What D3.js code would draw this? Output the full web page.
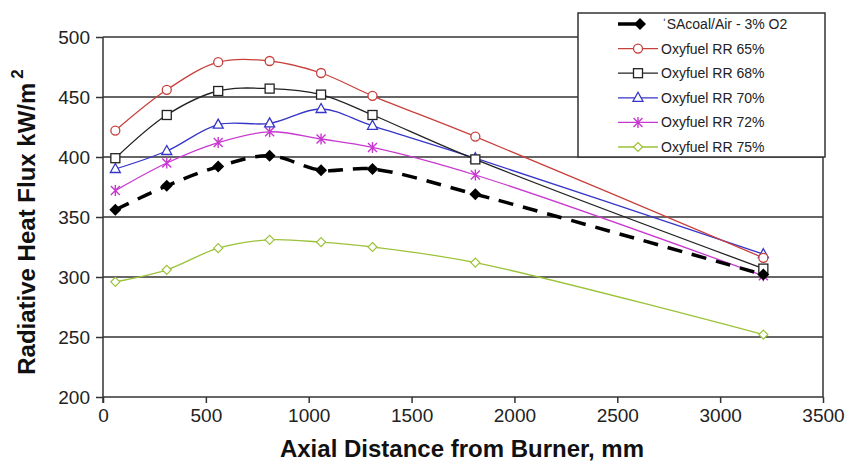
<!DOCTYPE html>
<html>
<head>
<meta charset="utf-8">
<script src="https://cdn.jsdelivr.net/npm/d3@7"></script>
<style>
  body { margin: 0; background: #fff; }
  svg { display: block; font-family: "Liberation Sans", Arial, sans-serif; }
  .axis path, .axis line { stroke: #333; stroke-width: 1.5; }
  .axis text { font-size: 19px; fill: #222; }
  .grid line { stroke: #333; stroke-width: 1.5; }
</style>
</head>
<body>
<div id="container"></div>
<script>
(function(){
//chart values
var distance = [60, 310, 560, 810, 1060, 1310, 1810, 3210];
var seriesNames = ["SAcoal/Air - 3% O2", "Oxyfuel RR 65%", "Oxyfuel RR 68%", "Oxyfuel RR 70%", "Oxyfuel RR 72%", "Oxyfuel RR 75%"];
var airValues = [356, 376, 392, 401, 389, 390, 369, 302];
var rr65Values = [422, 456, 479, 480, 470, 451, 417, 316];
var rr68Values = [399, 435, 455, 457, 452, 435, 398, 307];
var rr70Values = [390, 405, 427, 428, 440, 426, 399, 319];
var rr72Values = [372, 395, 412, 421, 415, 408, 385, 301];
var rr75Values = [296, 306, 324, 331, 329, 325, 312, 252];
var xTicks = [0, 500, 1000, 1500, 2000, 2500, 3000, 3500];
var yTicks = [200, 250, 300, 350, 400, 450, 500];

var series = [
    {name: seriesNames[0], values: airValues, color: "#000", marker: "diamondFill"},
    {name: seriesNames[1], values: rr65Values, color: "#c8403c", marker: "circle"},
    {name: seriesNames[2], values: rr68Values, color: "#222", marker: "square"},
    {name: seriesNames[3], values: rr70Values, color: "#3535c8", marker: "triangle"},
    {name: seriesNames[4], values: rr72Values, color: "#c838d0", marker: "star"},
    {name: seriesNames[5], values: rr75Values, color: "#9cc23a", marker: "diamond"}
];

var width = 846, height = 462;
var left = 103, right = 823, top = 37, bottom = 397;

var svg = d3.select("#container").append("svg")
    .attr("width", width)
    .attr("height", height);

var x = d3.scaleLinear().domain([0, 3500]).range([left, right]);
var y = d3.scaleLinear().domain([200, 500]).range([bottom, top]);

//horizontal gridlines
svg.append("g").attr("class", "grid")
    .selectAll("line")
    .data(yTicks.slice(1))
    .enter().append("line")
    .attr("x1", left).attr("x2", right)
    .attr("y1", function(d){ return y(d); })
    .attr("y2", function(d){ return y(d); });

//right border of plot
svg.append("line")
    .attr("x1", right).attr("x2", right)
    .attr("y1", top).attr("y2", bottom)
    .style("stroke", "#333").style("stroke-width", 1.5);

var xAxis = svg.append("g").attr("class", "axis")
    .attr("transform", "translate(0," + bottom + ")")
    .call(d3.axisBottom(x).tickValues(xTicks).tickFormat(d3.format("d"))
        .tickSize(6).tickSizeOuter(0).tickPadding(6));
xAxis.select(".domain").attr("d", "M" + left + ",0H" + right);

var yAxis = svg.append("g").attr("class", "axis")
    .attr("transform", "translate(" + left + ",0)")
    .call(d3.axisLeft(y).tickValues(yTicks).tickFormat(d3.format("d"))
        .tickSize(7).tickSizeOuter(0).tickPadding(6));
yAxis.select(".domain").attr("d", "M0," + top + "V" + (bottom + 6));

//axis titles
svg.append("text")
    .attr("x", 462).attr("y", 457)
    .attr("text-anchor", "middle")
    .style("font-weight", "bold").style("font-size", "24px").style("fill", "#111")
    .text("Axial Distance from Burner, mm");

var yTitle = svg.append("text")
    .attr("transform", "translate(35,222) rotate(-90)")
    .attr("text-anchor", "middle")
    .style("font-weight", "bold").style("font-size", "24px").style("fill", "#111");
yTitle.append("tspan").text("Radiative Heat Flux kW/m");
yTitle.append("tspan").attr("dx", 4).attr("dy", -12).style("font-size", "17px").text("2");

//marker drawing
function drawMarker(g, type, color){
    if (type === "circle") {
        g.append("circle").attr("r", 4.5)
            .style("fill", "#fff").style("stroke", color).style("stroke-width", 1.3);
    } else if (type === "square") {
        g.append("rect").attr("x", -4.5).attr("y", -4.5).attr("width", 9).attr("height", 9)
            .style("fill", "#fff").style("stroke", color).style("stroke-width", 1.3);
    } else if (type === "triangle") {
        g.append("path").attr("d", "M0,-5.5L5,3.5L-5,3.5Z")
            .style("fill", "#fff").style("stroke", color).style("stroke-width", 1.3);
    } else if (type === "star") {
        g.append("path").attr("d", "M0,-5.5V5.5M-4.5,-4.5L4.5,4.5M4.5,-4.5L-4.5,4.5")
            .style("fill", "none").style("stroke", color).style("stroke-width", 1.4);
    } else if (type === "diamond") {
        g.append("path").attr("d", "M0,-4.5L4.5,0L0,4.5L-4.5,0Z")
            .style("fill", "#fff").style("stroke", color).style("stroke-width", 1.2);
    } else if (type === "diamondFill") {
        g.append("path").attr("d", "M0,-6L6,0L0,6L-6,0Z")
            .style("fill", color).style("stroke", "none");
    }
}

var line = d3.line()
    .x(function(d, i){ return x(distance[i]); })
    .y(function(d){ return y(d); })
    .curve(d3.curveCatmullRom.alpha(0.5));

//draw lines, last to first so the dashed line sits on top
series.slice().reverse().forEach(function(s){
    var dashed = s.marker === "diamondFill";
    svg.append("path")
        .datum(s.values)
        .attr("d", line)
        .style("fill", "none")
        .style("stroke", s.color)
        .style("stroke-width", dashed ? 3.5 : 1.3)
        .style("stroke-dasharray", dashed ? "15,10" : null);

    s.values.forEach(function(v, i){
        var g = svg.append("g").attr("transform", "translate(" + x(distance[i]) + "," + y(v) + ")");
        drawMarker(g, s.marker, s.color);
    });
});

//legend
var legend = svg.append("g");
legend.append("rect")
    .attr("x", 578).attr("y", 13).attr("width", 247).attr("height", 144)
    .style("fill", "#fff").style("stroke", "#333").style("stroke-width", 1.5);

series.forEach(function(s, i){
    var ly = 24 + i * 24.6;
    var dashed = s.marker === "diamondFill";
    legend.append("line")
        .attr("x1", 618).attr("x2", dashed ? 640 : 658)
        .attr("y1", ly).attr("y2", ly)
        .style("stroke", s.color)
        .style("stroke-width", dashed ? 3.5 : 1.3);
    var g = legend.append("g").attr("transform", "translate(" + (dashed ? 640 : 638) + "," + ly + ")");
    drawMarker(g, s.marker, s.color);
    legend.append("text")
        .attr("x", dashed ? 662 : 661).attr("y", ly + 5)
        .style("font-size", "14px").style("fill", "#222")
        .text((dashed ? "\u02C8" : "") + s.name);
});
})();
</script>
</body>
</html>
